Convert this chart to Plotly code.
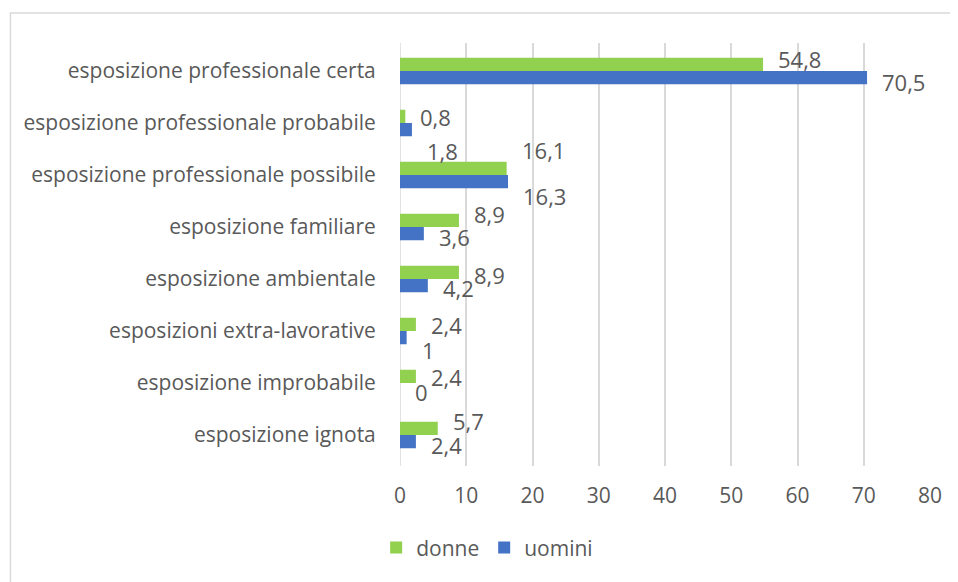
import plotly.graph_objects as go

categories = [
    "esposizione professionale certa",
    "esposizione professionale probabile",
    "esposizione professionale possibile",
    "esposizione familiare",
    "esposizione ambientale",
    "esposizioni extra-lavorative",
    "esposizione improbabile",
    "esposizione ignota",
]
donne = [54.8, 0.8, 16.1, 8.9, 8.9, 2.4, 2.4, 5.7]
uomini = [70.5, 1.8, 16.3, 3.6, 4.2, 1.0, 0.0, 2.4]
x_ticks = [0, 10, 20, 30, 40, 50, 60, 70, 80]

# label vertical nudges (px, positive = up) mimicking the original placement
nudge_donne = [12, 6, 25, 13, 4, 6, 6, 14]
nudge_uomini = [-11, -28, -21, -10, -9, -19, -9, -10]

GREEN = "#92D050"
BLUE = "#4472C4"
TXT = "#595959"
FONT = "Open Sans"

def fmt(v):
    s = ("%g" % v)
    return s.replace(".", ",")

fig = go.Figure()
fig.add_trace(go.Bar(name="donne", y=categories, x=donne, orientation="h",
                     marker=dict(color=GREEN, line=dict(width=0))))
fig.add_trace(go.Bar(name="uomini", y=categories, x=uomini, orientation="h",
                     marker=dict(color=BLUE, line=dict(width=0))))

for cat, v, n in zip(categories, donne, nudge_donne):
    fig.add_annotation(x=v, y=cat, text=fmt(v), showarrow=False, xanchor="left",
                       yanchor="middle", xshift=13, yshift=n,
                       font=dict(family=FONT, size=22, color=TXT))
for cat, v, n in zip(categories, uomini, nudge_uomini):
    fig.add_annotation(x=v, y=cat, text=fmt(v), showarrow=False, xanchor="left",
                       yanchor="middle", xshift=13, yshift=n,
                       font=dict(family=FONT, size=22, color=TXT))

# chart-area frame
fig.add_shape(type="rect", xref="paper", yref="paper",
              x0=-0.735, y0=-0.6, x1=1.3, y1=1.071,
              line=dict(color="#D9D9D9", width=1.5), layer="below")

fig.update_layout(
    width=958, height=582,
    margin=dict(l=392, r=36, t=35, b=124),
    paper_bgcolor="white", plot_bgcolor="white",
    barmode="group", bargap=0.49, bargroupgap=0,
    font=dict(family=FONT, size=21, color=TXT),
    showlegend=True,
    legend=dict(orientation="h", x=-0.045, xanchor="left", y=-0.145, yanchor="top",
                font=dict(family=FONT, size=21, color=TXT),
                itemwidth=30, traceorder="normal"),
    xaxis=dict(range=[0, 80], tickvals=x_ticks, showgrid=True,
               gridcolor="#D9D9D9", gridwidth=1.5, zeroline=False,
               showline=False, ticks="outside", ticklen=11,
               tickcolor="rgba(0,0,0,0)",
               tickfont=dict(family=FONT, size=21, color=TXT)),
    yaxis=dict(type="category", autorange="reversed", showgrid=False,
               zeroline=False, showline=False, ticks="outside", ticklen=19,
               tickcolor="rgba(0,0,0,0)",
               tickfont=dict(family=FONT, size=21, color=TXT)),
)
fig.add_vline(x=0, line=dict(color="#D9D9D9", width=1.5), layer="below")

fig.write_html("out.html")
